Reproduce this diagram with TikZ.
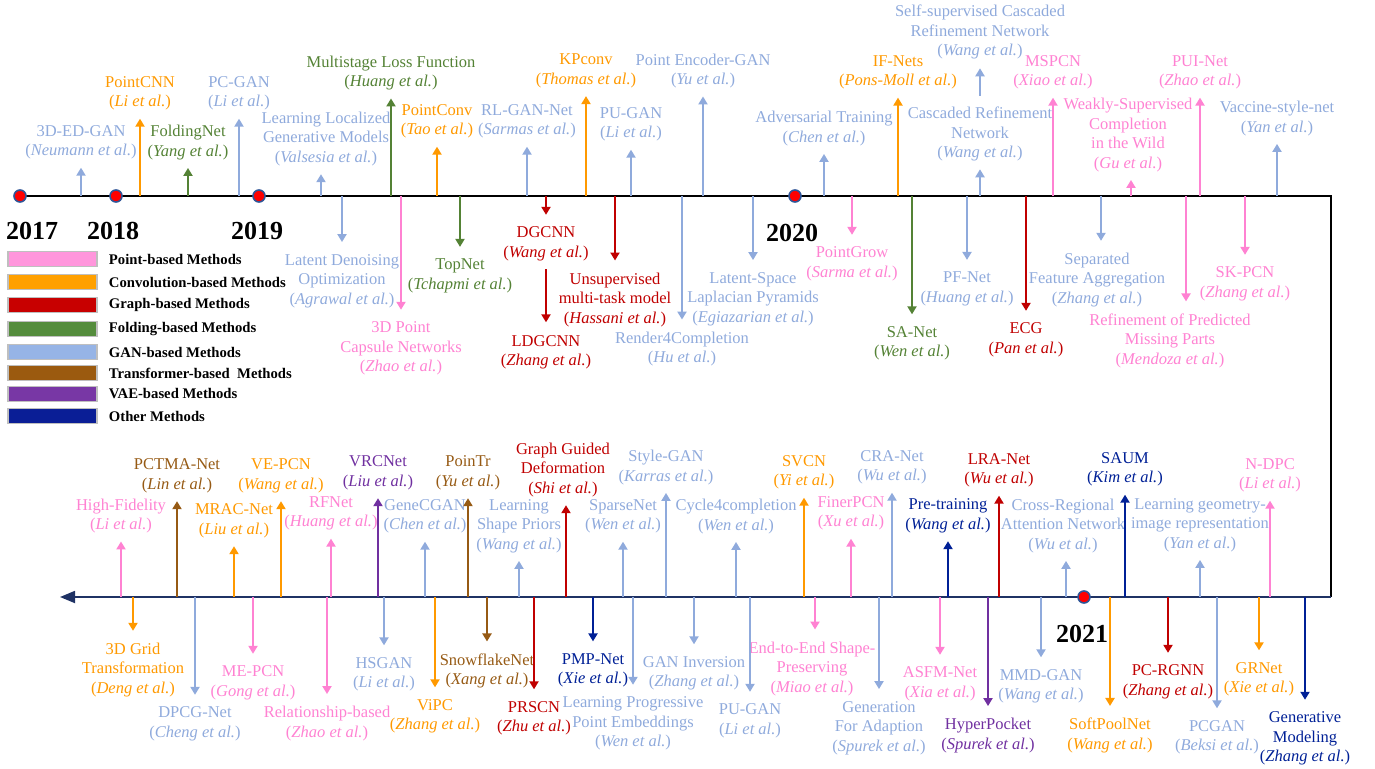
\documentclass[tikz,border=0pt]{standalone}
\usepackage{fontspec}
\setmainfont{Liberation Serif}
\usepackage{xcolor}
\usetikzlibrary{positioning}
\usetikzlibrary{arrows.meta}
\definecolor{ptcol}{RGB}{255,130,210}
\definecolor{cvcol}{RGB}{255,153,0}
\definecolor{grcol}{RGB}{192,0,0}
\definecolor{fdcol}{RGB}{84,130,53}
\definecolor{gncol}{RGB}{143,170,220}
\definecolor{tfcol}{RGB}{150,90,20}
\definecolor{vacol}{RGB}{112,48,160}
\definecolor{otcol}{RGB}{0,32,150}
\definecolor{navyline}{RGB}{31,50,100}
\definecolor{dotcol}{RGB}{47,85,151}
\tikzstyle{pointm}=[color=ptcol]
\tikzstyle{convm}=[color=cvcol]
\tikzstyle{graphm}=[color=grcol]
\tikzstyle{foldm}=[color=fdcol]
\tikzstyle{ganm}=[color=gncol]
\tikzstyle{transm}=[color=tfcol]
\tikzstyle{vaem}=[color=vacol]
\tikzstyle{otherm}=[color=otcol]
\tikzstyle{pin}=[-{Triangle[width=9pt,length=8pt]}, line width=2pt]
\tikzstyle{uparr}=[pin, shorten >=8pt]
\tikzstyle{dnarr}=[pin, shorten >=12pt]
\tikzstyle{lbl}=[inner sep=0pt, font=\fontsize{16.5}{19.5}\selectfont]
\tikzstyle{year}=[inner sep=0pt, font=\fontsize{26}{30}\selectfont\bfseries]
\tikzstyle{dot}=[circle, fill=red, draw=dotcol, line width=1.6pt, minimum size=12pt, inner sep=0pt]
\tikzstyle{legbox}=[draw=black!25, line width=1.5pt, minimum width=89pt, minimum height=15pt, inner sep=0pt]
\tikzstyle{legtxt}=[inner sep=0pt, font=\fontsize{14.7}{17}\selectfont\bfseries]
\newcommand{\auth}[1]{(\textit{#1 et al.})}

\begin{document}
\begin{tikzpicture}[x=1pt, y=-1pt, every text node part/.style={align=center}]
  \useasboundingbox (0,0) rectangle (1375,768);

  % time line
  \coordinate (top) at (0,196);
  \coordinate (bot) at (0,597);
  \coordinate (start) at (20,196);
  \coordinate (ne) at (1331,196);
  \coordinate (se) at (1331,597);
  \coordinate (end) at (60,597);
  \draw[line width=1.8pt] (start) -- (ne) -- (se);
  \draw[line width=1.8pt, navyline, -{Triangle[width=12pt,length=15pt]}] (se) -- (end);

  % legend
  \node[legbox, fill={rgb,255:red,255;green,150;blue,220}] (lg1) at (52.5,259) {};
  \node[legbox, fill={rgb,255:red,255;green,160;blue,0}]   (lg2) at (52.5,282) {};
  \node[legbox, fill={rgb,255:red,200;green,0;blue,0}]     (lg3) at (52.5,305) {};
  \node[legbox, fill={rgb,255:red,84;green,140;blue,60}]   (lg4) at (52.5,329) {};
  \node[legbox, fill={rgb,255:red,150;green,180;blue,230}] (lg5) at (52.5,352) {};
  \node[legbox, fill={rgb,255:red,155;green,90;blue,15}]   (lg6) at (52.5,373) {};
  \node[legbox, fill={rgb,255:red,120;green,55;blue,165}]  (lg7) at (52.5,394) {};
  \node[legbox, fill={rgb,255:red,10;green,30;blue,150}]   (lg8) at (52.5,416) {};
  \node[legtxt, right=11pt of lg1] {Point-based Methods};
  \node[legtxt, right=11pt of lg2] {Convolution-based Methods};
  \node[legtxt, right=11pt of lg3] {Graph-based Methods};
  \node[legtxt, right=11pt of lg4] {Folding-based Methods};
  \node[legtxt, right=11pt of lg5] {GAN-based Methods};
  \node[legtxt, right=11pt of lg6] {Transformer-based\ \ Methods};
  \node[legtxt, right=11pt of lg7] {VAE-based Methods};
  \node[legtxt, right=11pt of lg8] {Other Methods};

  % 2017 - 2020, above the line
  \node[lbl, ganm]   (edgan)      at (81,142.5)  {3D-ED-GAN\\\auth{Neumann}};
  \node[lbl, convm]  (pointcnn)   at (140,93.5)  {PointCNN\\\auth{Li}};
  \node[lbl, foldm]  (foldnet)    at (188,142.5) {FoldingNet\\\auth{Yang}};
  \node[lbl, ganm]   (pcgan)      at (239,93.5)  {PC-GAN\\\auth{Li}};
  \node[lbl, ganm]   (learnloc)   at (326,139)   {Learning Localized\\Generative Models\\\auth{Valsesia}};
  \node[lbl, foldm]  (multistage) at (391,73)    {Multistage Loss Function\\\auth{Huang}};
  \node[lbl, convm]  (pointconv)  at (437,121.5) {PointConv\\\auth{Tao}};
  \node[lbl, ganm]   (rlgan)      at (527,121.5) {RL-GAN-Net\\\auth{Sarmas}};
  \node[lbl, convm]  (kpconv)     at (586,71)    {KPconv\\\auth{Thomas}};
  \node[lbl, ganm]   (pugan)      at (631,124.5) {PU-GAN\\\auth{Li}};
  \node[lbl, ganm]   (pegan)      at (703,71)    {Point Encoder-GAN\\\auth{Yu}};
  \node[lbl, ganm]   (advtrain)   at (824,128.5) {Adversarial Training\\\auth{Chen}};
  \node[lbl, convm]  (ifnets)     at (898,72.5)  {IF-Nets\\\auth{Pons-Moll}};
  \node[lbl, ganm]   (cascref)    at (980,134)   {Cascaded Refinement\\Network\\\auth{Wang}};
  \node[lbl, ganm]   (selfcasc)   at (980,32)    {Self-supervised Cascaded\\Refinement Network\\\auth{Wang}};
  \node[lbl, pointm] (mspcn)      at (1053,72.5) {MSPCN\\\auth{Xiao}};
  \node[lbl, pointm] (weakly)     at (1128,135)  {Weakly-Supervised\\Completion\\in the Wild\\\auth{Gu}};
  \node[lbl, pointm] (puinet)     at (1200,72.5) {PUI-Net\\\auth{Zhao}};
  \node[lbl, ganm]   (vaccine)    at (1277,118.5) {Vaccine-style-net\\\auth{Yan}};
  \coordinate (learnloc-o) at (321,196);
  \coordinate (weakly-o) at (1131,196);

  \draw[ganm, uparr]   (edgan |- top) -- (edgan.south);
  \draw[convm, uparr]  (pointcnn |- top) -- (pointcnn.south);
  \draw[foldm, uparr]  (foldnet |- top) -- (foldnet.south);
  \draw[ganm, uparr]   (pcgan |- top) -- (pcgan.south);
  \draw[ganm, uparr]   (learnloc-o) -- (learnloc-o |- learnloc.south);
  \draw[foldm, uparr]  (multistage |- top) -- (multistage.south);
  \draw[convm, uparr]  (pointconv |- top) -- (pointconv.south);
  \draw[ganm, uparr]   (rlgan |- top) -- (rlgan.south);
  \draw[convm, uparr]  (kpconv |- top) -- (kpconv.south);
  \draw[ganm, uparr]   (pugan |- top) -- (pugan.south);
  \draw[ganm, uparr]   (pegan |- top) -- (pegan.south);
  \draw[ganm, uparr]   (advtrain |- top) -- (advtrain.south);
  \draw[convm, uparr]  (ifnets |- top) -- (ifnets.south);
  \draw[ganm, uparr]   (cascref |- top) -- (cascref.south);
  \draw[ganm, pin, shorten <=11pt, shorten >=9pt] (cascref.north) -- (selfcasc.south);
  \draw[pointm, uparr] (mspcn |- top) -- (mspcn.south);
  \draw[pointm, uparr] (weakly-o) -- (weakly-o |- weakly.south);
  \draw[pointm, uparr] (puinet |- top) -- (puinet.south);
  \draw[ganm, uparr]   (vaccine |- top) -- (vaccine.south);

  % 2017 - 2020, below the line
  \node[lbl, ganm]   (latentden) at (342,281)   {Latent Denoising\\Optimization\\\auth{Agrawal}};
  \node[lbl, pointm] (capsule)   at (401,348.7) {3D Point\\Capsule Networks\\\auth{Zhao}};
  \node[lbl, foldm]  (topnet)    at (460,276)   {TopNet\\\auth{Tchapmi}};
  \node[lbl, graphm] (dgcnn)     at (546,244)   {DGCNN\\\auth{Wang}};
  \node[lbl, graphm] (ldgcnn)    at (546,352.5) {LDGCNN\\\auth{Zhang}};
  \node[lbl, graphm] (unsup)     at (615,299.7) {Unsupervised\\multi-task model\\\auth{Hassani}};
  \node[lbl, ganm]   (render)    at (682,349)   {Render4Completion\\\auth{Hu}};
  \node[lbl, ganm]   (latspace)  at (753,299)   {Latent-Space\\Laplacian Pyramids\\\auth{Egiazarian}};
  \node[lbl, pointm] (pointgrow) at (852,264)   {PointGrow\\\auth{Sarma}};
  \node[lbl, foldm]  (sanet)     at (912,343.5) {SA-Net\\\auth{Wen}};
  \node[lbl, ganm]   (pfnet)     at (967,289)   {PF-Net\\\auth{Huang}};
  \node[lbl, graphm] (ecg)       at (1026,340)  {ECG\\\auth{Pan}};
  \node[lbl, ganm]   (separated) at (1097,280)  {Separated\\Feature Aggregation\\\auth{Zhang}};
  \node[lbl, pointm] (refine)    at (1170,340.7) {Refinement of Predicted\\Missing Parts\\\auth{Mendoza}};
  \node[lbl, pointm] (skpcn)     at (1245,284)  {SK-PCN\\\auth{Zhang}};
  \coordinate (separated-o) at (1101,196);
  \coordinate (refine-o) at (1186,196);

  \draw[ganm, dnarr]   (latentden |- top) -- (latentden.north);
  \draw[pointm, dnarr] (capsule |- top) -- (capsule.north);
  \draw[foldm, dnarr]  (topnet |- top) -- (topnet.north);
  \draw[graphm, dnarr] (dgcnn |- top) -- (dgcnn.north);
  \draw[graphm, pin, shorten <=8pt, shorten >=13pt] (dgcnn.south) -- (ldgcnn.north);
  \draw[graphm, dnarr] (unsup |- top) -- (unsup.north);
  \draw[ganm, dnarr]   (render |- top) -- (render.north);
  \draw[ganm, dnarr]   (latspace |- top) -- (latspace.north);
  \draw[pointm, dnarr] (pointgrow |- top) -- (pointgrow.north);
  \draw[foldm, dnarr]  (sanet |- top) -- (sanet.north);
  \draw[ganm, dnarr]   (pfnet |- top) -- (pfnet.north);
  \draw[graphm, dnarr] (ecg |- top) -- (ecg.north);
  \draw[ganm, dnarr]   (separated-o) -- (separated-o |- separated.north);
  \draw[pointm, dnarr] (refine-o) -- (refine-o |- refine.north);
  \draw[pointm, dnarr] (skpcn |- top) -- (skpcn.north);

  % 2020 - 2021, above the line
  \node[lbl, pointm] (highfid)    at (121,516)   {High-Fidelity\\\auth{Li}};
  \node[lbl, transm] (pctma)      at (177,476)   {PCTMA-Net\\\auth{Lin}};
  \node[lbl, convm]  (mrac)       at (234,521)   {MRAC-Net\\\auth{Liu}};
  \node[lbl, convm]  (vepcn)      at (281,476)   {VE-PCN\\\auth{Wang}};
  \node[lbl, pointm] (rfnet)      at (331,513.5) {RFNet\\\auth{Huang}};
  \node[lbl, vaem]   (vrcnet)     at (378,473)   {VRCNet\\\auth{Liu}};
  \node[lbl, ganm]   (genecgan)   at (425,516.5) {GeneCGAN\\\auth{Chen}};
  \node[lbl, transm] (pointr)     at (468,473)   {PoinTr\\\auth{Yu}};
  \node[lbl, ganm]   (learnshape) at (519,526)   {Learning\\Shape Priors\\\auth{Wang}};
  \node[lbl, graphm] (graphguide) at (563,470)   {Graph Guided\\Deformation\\\auth{Shi}};
  \node[lbl, ganm]   (sparsenet)  at (623,516.5) {SparseNet\\\auth{Wen}};
  \node[lbl, ganm]   (stylegan)   at (666,467.5) {Style-GAN\\\auth{Karras}};
  \node[lbl, ganm]   (cycle)      at (736,516.5) {Cycle4completion\\\auth{Wen}};
  \node[lbl, convm]  (svcn)       at (804,472.5) {SVCN\\\auth{Yi}};
  \node[lbl, pointm] (finerpcn)   at (851,513.5) {FinerPCN\\\auth{Xu}};
  \node[lbl, ganm]   (cranet)     at (892,467.5) {CRA-Net\\\auth{Wu}};
  \node[lbl, otherm] (pretrain)   at (948,516)   {Pre-training\\\auth{Wang}};
  \node[lbl, graphm] (lranet)     at (999,470.5) {LRA-Net\\\auth{Wu}};
  \node[lbl, ganm]   (crossreg)   at (1063,525.7) {Cross-Regional\\Attention Network\\\auth{Wu}};
  \node[lbl, otherm] (saum)       at (1125,469.5) {SAUM\\\auth{Kim}};
  \node[lbl, ganm]   (geomimg)    at (1200,525)  {Learning geometry-\\image representation\\\auth{Yan}};
  \node[lbl, pointm] (ndpc)       at (1270,475.5) {N-DPC\\\auth{Li}};
  \coordinate (graphguide-o) at (566,597);
  \coordinate (crossreg-o) at (1066,597);

  \draw[pointm, uparr] (highfid |- bot) -- (highfid.south);
  \draw[transm, uparr] (pctma |- bot) -- (pctma.south);
  \draw[convm, uparr]  (mrac |- bot) -- (mrac.south);
  \draw[convm, uparr]  (vepcn |- bot) -- (vepcn.south);
  \draw[pointm, uparr] (rfnet |- bot) -- (rfnet.south);
  \draw[vaem, uparr]   (vrcnet |- bot) -- (vrcnet.south);
  \draw[ganm, uparr]   (genecgan |- bot) -- (genecgan.south);
  \draw[transm, uparr] (pointr |- bot) -- (pointr.south);
  \draw[ganm, uparr]   (learnshape |- bot) -- (learnshape.south);
  \draw[graphm, uparr] (graphguide-o) -- (graphguide-o |- graphguide.south);
  \draw[ganm, uparr]   (sparsenet |- bot) -- (sparsenet.south);
  \draw[ganm, uparr]   (stylegan |- bot) -- (stylegan.south);
  \draw[ganm, uparr]   (cycle |- bot) -- (cycle.south);
  \draw[convm, uparr]  (svcn |- bot) -- (svcn.south);
  \draw[pointm, uparr] (finerpcn |- bot) -- (finerpcn.south);
  \draw[ganm, uparr]   (cranet |- bot) -- (cranet.south);
  \draw[otherm, uparr] (pretrain |- bot) -- (pretrain.south);
  \draw[graphm, uparr] (lranet |- bot) -- (lranet.south);
  \draw[ganm, uparr]   (crossreg-o) -- (crossreg-o |- crossreg.south);
  \draw[otherm, uparr] (saum |- bot) -- (saum.south);
  \draw[ganm, uparr]   (geomimg |- bot) -- (geomimg.south);
  \draw[pointm, uparr] (ndpc |- bot) -- (ndpc.south);

  % 2020 - 2021, below the line
  \node[lbl, convm]  (grid)      at (133,670)   {3D Grid\\Transformation\\\auth{Deng}};
  \node[lbl, ganm]   (dpcg)      at (195,724)   {DPCG-Net\\\auth{Cheng}};
  \node[lbl, pointm] (mepcn)     at (253,683)   {ME-PCN\\\auth{Gong}};
  \node[lbl, pointm] (relation)  at (327,723.5) {Relationship-based\\\auth{Zhao}};
  \node[lbl, ganm]   (hsgan)     at (384,674.5) {HSGAN\\\auth{Li}};
  \node[lbl, convm]  (vipc)      at (435,716.5) {ViPC\\\auth{Zhang}};
  \node[lbl, transm] (snowflake) at (487,671)   {SnowflakeNet\\\auth{Xang}};
  \node[lbl, graphm] (prscn)     at (534,718.5) {PRSCN\\\auth{Zhu}};
  \node[lbl, otherm] (pmpnet)    at (593,670.5) {PMP-Net\\\auth{Xie}};
  \node[lbl, ganm]   (learnprog) at (633,723.7) {Learning Progressive\\Point Embeddings\\\auth{Wen}};
  \node[lbl, ganm]   (ganinv)    at (694,673.5) {GAN Inversion\\\auth{Zhang}};
  \node[lbl, ganm]   (pugantwo)  at (750,721)   {PU-GAN\\\auth{Li}};
  \node[lbl, pointm] (endtoend)  at (812,668.7) {End-to-End Shape-\\Preserving\\\auth{Miao}};
  \node[lbl, ganm]   (genadapt)  at (879,728)   {Generation\\For Adaption\\\auth{Spurek}};
  \node[lbl, pointm] (asfm)      at (940,684)   {ASFM-Net\\\auth{Xia}};
  \node[lbl, vaem]   (hyper)     at (988,735.5) {HyperPocket\\\auth{Spurek}};
  \node[lbl, ganm]   (mmdgan)    at (1041,686.5) {MMD-GAN\\\auth{Wang}};
  \node[lbl, convm]  (softpool)  at (1110,735.5) {SoftPoolNet\\\auth{Wang}};
  \node[lbl, graphm] (pcrgnn)    at (1168,682)  {PC-RGNN\\\auth{Zhang}};
  \node[lbl, ganm]   (pcgantwo)  at (1217,737.5) {PCGAN\\\auth{Beksi}};
  \node[lbl, convm]  (grnet)     at (1259,679.5) {GRNet\\\auth{Xie}};
  \node[lbl, otherm] (genmodel)  at (1305,738.7) {Generative\\Modeling\\\auth{Zhang}};
  \coordinate (endtoend-o) at (815,597);

  \draw[convm, dnarr]  (grid |- bot) -- (grid.north);
  \draw[ganm, dnarr]   (dpcg |- bot) -- (dpcg.north);
  \draw[pointm, dnarr] (mepcn |- bot) -- (mepcn.north);
  \draw[pointm, dnarr] (relation |- bot) -- (relation.north);
  \draw[ganm, dnarr]   (hsgan |- bot) -- (hsgan.north);
  \draw[convm, dnarr]  (vipc |- bot) -- (vipc.north);
  \draw[transm, dnarr] (snowflake |- bot) -- (snowflake.north);
  \draw[graphm, dnarr] (prscn |- bot) -- (prscn.north);
  \draw[otherm, dnarr] (pmpnet |- bot) -- (pmpnet.north);
  \draw[ganm, dnarr]   (learnprog |- bot) -- (learnprog.north);
  \draw[ganm, dnarr]   (ganinv |- bot) -- (ganinv.north);
  \draw[ganm, dnarr]   (pugantwo |- bot) -- (pugantwo.north);
  \draw[pointm, dnarr] (endtoend-o) -- (endtoend-o |- endtoend.north);
  \draw[ganm, dnarr]   (genadapt |- bot) -- (genadapt.north);
  \draw[pointm, dnarr] (asfm |- bot) -- (asfm.north);
  \draw[vaem, dnarr]   (hyper |- bot) -- (hyper.north);
  \draw[ganm, dnarr]   (mmdgan |- bot) -- (mmdgan.north);
  \draw[convm, dnarr]  (softpool |- bot) -- (softpool.north);
  \draw[graphm, dnarr] (pcrgnn |- bot) -- (pcrgnn.north);
  \draw[ganm, dnarr]   (pcgantwo |- bot) -- (pcgantwo.north);
  \draw[convm, dnarr]  (grnet |- bot) -- (grnet.north);
  \draw[otherm, dnarr] (genmodel |- bot) -- (genmodel.north);

  % years
  \node[dot] (d17) at (20,196) {};
  \node[dot] (d18) at (116,196) {};
  \node[dot] (d19) at (259,196) {};
  \node[dot] (d20) at (795,196) {};
  \node[dot] (d21) at (1084,597) {};
  \node[year] (y17) at (32,231) {2017};
  \node[year] (y18) at (113,231) {2018};
  \node[year] (y19) at (257,231) {2019};
  \node[year] (y20) at (792,233) {2020};
  \node[year] (y21) at (1082,634) {2021};
\end{tikzpicture}
\end{document}
